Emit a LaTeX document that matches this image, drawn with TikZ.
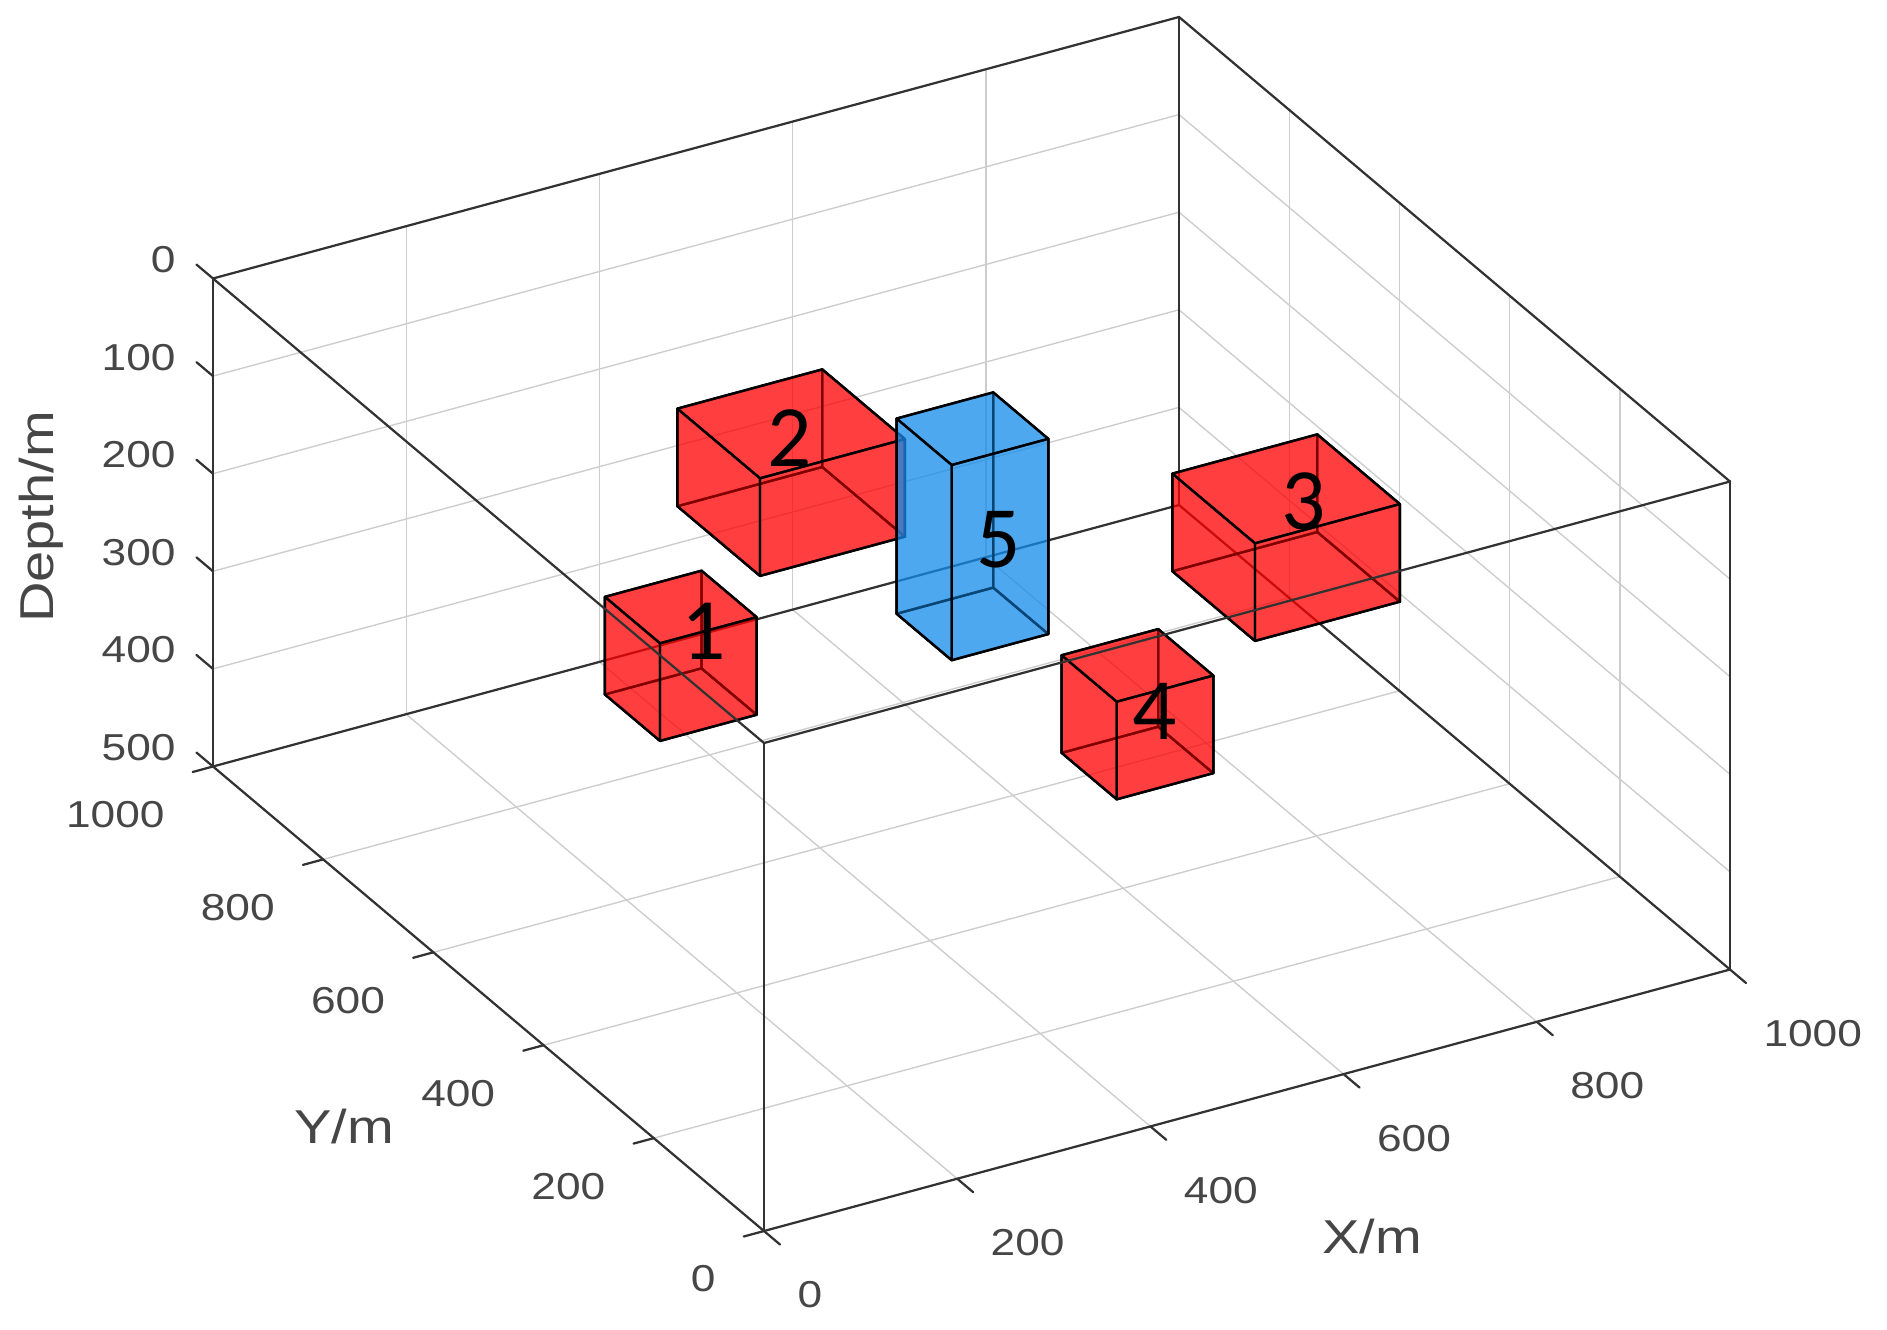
\documentclass[tikz,border=0pt]{standalone}
\usepackage{fontspec}
\setmainfont{Liberation Sans}
\newfontfamily\numfont{Carlito}
\usepackage{graphicx}
\definecolor{axc}{RGB}{50,50,50}
\definecolor{txc}{RGB}{70,70,70}
\definecolor{grc}{RGB}{205,205,205}
\definecolor{boxred}{RGB}{255,0,0}
\definecolor{boxblue}{RGB}{20,140,235}
\newcommand\hs[1]{\scalebox{1.18}[1]{#1}}
\tikzset{
 ax3d/.style={x={(0.3864pt,0.1046pt)}, y={(-0.2204pt,0.1858pt)}, z={(0pt,-0.3904pt)}},
 gridline/.style={draw=grc, line width=0.55pt},
 axline/.style={draw=axc, line width=0.9pt, line cap=round, line join=round},
 face/.style={fill=#1, fill opacity=0.5, draw=black, line width=0.95pt, line join=round},
 ticklbl/.style={text=txc, inner sep=0pt, font=\fontsize{15}{18}\selectfont},
 axlbl/.style={text=txc, inner sep=0pt, font=\fontsize{19}{22}\selectfont},
 numlbl/.style={text=black, inner sep=0pt, font=\numfont\fontsize{35}{40}\selectfont},
}
% #1,#2 screen position of the (min x, min y, top) corner; #3 #4 #5 sizes in x, y, depth; #6 colour
\newcommand\cuboid[6]{%
 \begin{scope}[shift={(#1,#2)}, ax3d]
  % back faces
  \path[face=#6] (0,0,#5)--(#3,0,#5)--(#3,#4,#5)--(0,#4,#5)--cycle;
  \path[face=#6] (#3,0,0)--(#3,#4,0)--(#3,#4,#5)--(#3,0,#5)--cycle;
  \path[face=#6] (0,#4,0)--(#3,#4,0)--(#3,#4,#5)--(0,#4,#5)--cycle;
  % front faces
  \path[face=#6] (0,0,0)--(#3,0,0)--(#3,#4,0)--(0,#4,0)--cycle;
  \path[face=#6] (0,0,0)--(0,#4,0)--(0,#4,#5)--(0,0,#5)--cycle;
  \path[face=#6] (0,0,0)--(#3,0,0)--(#3,0,#5)--(0,0,#5)--cycle;
 \end{scope}}
\begin{document}
\begin{tikzpicture}[x=0.4pt, y=-0.4pt]
\useasboundingbox (0,0) rectangle (1887,1329);
% ---------- grid and back edges ----------
\begin{scope}[shift={(764,743)}, ax3d]
 \foreach \v in {200,400,600,800} {
  \draw[gridline] (\v,0,500)--(\v,1000,500);
  \draw[gridline] (0,\v,500)--(1000,\v,500);
  \draw[gridline] (\v,1000,0)--(\v,1000,500);
  \draw[gridline] (1000,\v,0)--(1000,\v,500);
 }
 \foreach \d in {100,200,300,400} {
  \draw[gridline] (0,1000,\d)--(1000,1000,\d)--(1000,0,\d);
 }
 \coordinate (A0) at (0,1000,0);
 \coordinate (B0) at (1000,1000,0);
 \coordinate (C0) at (1000,0,0);
 \coordinate (D0) at (0,0,0);
 \coordinate (A1) at (0,1000,500);
 \coordinate (B1) at (1000,1000,500);
 \coordinate (C1) at (1000,0,500);
 \coordinate (D1) at (0,0,500);
 \draw[axline] (A1)--(B1)--(C1);
 \draw[axline] (B0)--(B1);
 \draw[axline] (A0)--(B0)--(C0);
 \draw[axline] (A0)--(A1);
 \draw[axline] (C0)--(C1);
\end{scope}
% ---------- bodies ----------
\cuboid{760}{478.3}{150}{150}{100}{boxred}
\cuboid{1255}{543.3}{150}{150}{100}{boxred}
\cuboid{951.7}{465}{100}{100}{200}{boxblue}
\cuboid{660}{643.3}{100}{100}{100}{boxred}
\cuboid{1116.7}{701.7}{100}{100}{100}{boxred}
% ---------- front edges and ticks ----------
\begin{scope}[shift={(764,743)}, ax3d]
 \draw[axline] (A0)--(D0)--(C0);
 \draw[axline] (D0)--(D1);
 \draw[axline] (A1)--(D1)--(C1);
 \foreach \d in {0,100,200,300,400,500} {
  \draw[axline] (0,1000,\d)--(0,1030,\d);
 }
 \foreach \v in {0,200,400,600,800,1000} {
  \draw[axline] (0,\v,500)--(-21,\v,500);
  \draw[axline] (\v,0,500)--(\v,-29,500);
 }
\end{scope}
% ---------- body numbers ----------
\node[numlbl] (n1) at (703.3,631.7) {1};
\node[numlbl] (n2) at (790,438.3) {2};
\node[numlbl] (n3) at (1303.3,501.7) {3};
\node[numlbl] (n4) at (1155,711.7) {4};
\node[numlbl] (n5) at (998.3,540) {5};
% ---------- depth tick labels ----------
\node[ticklbl, anchor=east] (d0) at (176,259.5) {\hs{0}};
\node[ticklbl, anchor=east] (d1) at (176,357.1) {\hs{100}};
\node[ticklbl, anchor=east] (d2) at (176,454.7) {\hs{200}};
\node[ticklbl, anchor=east] (d3) at (176,552.3) {\hs{300}};
\node[ticklbl, anchor=east] (d4) at (176,649.9) {\hs{400}};
\node[ticklbl, anchor=east] (d5) at (176,747.5) {\hs{500}};
% ---------- Y tick labels ----------
\node[ticklbl, anchor=east] (y0) at (716,1279) {\hs{0}};
\node[ticklbl, anchor=east] (y2) at (605.8,1186.1) {\hs{200}};
\node[ticklbl, anchor=east] (y4) at (495.6,1093.2) {\hs{400}};
\node[ticklbl, anchor=east] (y6) at (385.4,1000.3) {\hs{600}};
\node[ticklbl, anchor=east] (y8) at (275.2,907.4) {\hs{800}};
\node[ticklbl, anchor=east] (y10) at (165,814.5) {\hs{1000}};
% ---------- X tick labels ----------
\node[ticklbl, anchor=west] (x0) at (797,1295) {\hs{0}};
\node[ticklbl, anchor=west] (x2) at (990.2,1242.7) {\hs{200}};
\node[ticklbl, anchor=west] (x4) at (1183.4,1190.4) {\hs{400}};
\node[ticklbl, anchor=west] (x6) at (1376.6,1138.1) {\hs{600}};
\node[ticklbl, anchor=west] (x8) at (1569.8,1085.8) {\hs{800}};
\node[ticklbl, anchor=west] (x10) at (1763,1033.5) {\hs{1000}};
% ---------- axis labels ----------
\node[axlbl, rotate=90] (zl) at (41,517) {\hs{Depth/m}};
\node[axlbl] (yl) at (344,1127) {\hs{Y/m}};
\node[axlbl] (xl) at (1372,1236) {\hs{X/m}};
\end{tikzpicture}
\end{document}
